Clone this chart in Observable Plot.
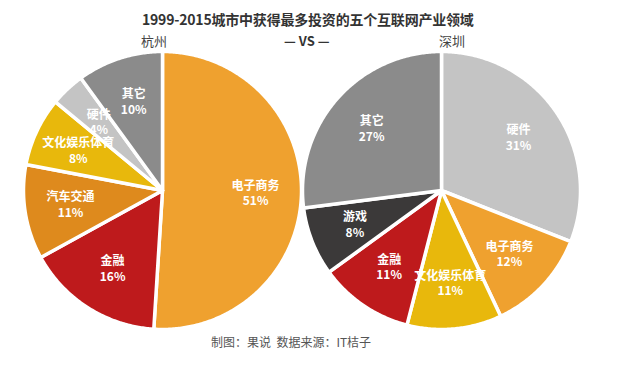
<!DOCTYPE html>
<html>
<head>
<meta charset="utf-8">
<script src="https://cdn.jsdelivr.net/npm/d3@7"></script>
<script src="https://cdn.jsdelivr.net/npm/@observablehq/plot@0.6"></script>
<style>
  body { margin: 0; background: #fff; font-family: "Noto Sans CJK SC", "Noto Sans", sans-serif; }
  #wrap { width: 620px; }
  #hdr { position: relative; height: 48px; width: 620px; color: #333; }
  #title { position: absolute; left: 142px; top: 11px; font-size: 14px; line-height: 17px; font-weight: bold; white-space: nowrap; letter-spacing: -0.2px; }
  .sub { position: absolute; top: 32px; font-size: 13px; line-height: 17px; white-space: nowrap; color: #444; }
  #cap { margin: 5px 0 0 211px; font-size: 12px; line-height: 16px; color: #555; white-space: nowrap; }
</style>
</head>
<body>
<div id="wrap">
  <div id="hdr">
    <div id="title">1999-2015城市中获得最多投资的五个互联网产业领域</div>
    <div class="sub" id="cityL" style="left:141px"></div>
    <div class="sub" style="left:284px;font-weight:bold;color:#333">— VS —</div>
    <div class="sub" id="cityR" style="left:439px"></div>
  </div>
  <div id="chart"></div>
  <div id="cap">制图：果说&nbsp;&nbsp;数据来源：IT桔子</div>
</div>
<script>
// ---- data ----
const cities = ["杭州", "深圳"];
const categoriesHZ = ["电子商务", "金融", "汽车交通", "文化娱乐体育", "硬件", "其它"];
const valuesHZ = [51, 16, 11, 8, 4, 10];
const categoriesSZ = ["硬件", "电子商务", "文化娱乐体育", "金融", "游戏", "其它"];
const valuesSZ = [31, 12, 11, 11, 8, 27];
const colorDomain = ["电子商务", "金融", "汽车交通", "文化娱乐体育", "硬件", "其它", "游戏"];
const colorRange = ["#EFA12F", "#BE1A1C", "#DE8A1D", "#E8B80C", "#C4C4C4", "#8B8B8B", "#3B3939"];

document.getElementById("cityL").textContent = cities[0];
document.getElementById("cityR").textContent = cities[1];

// ---- build slices ----
const series = [
  {city: cities[0], cats: categoriesHZ, vals: valuesHZ},
  {city: cities[1], cats: categoriesSZ, vals: valuesSZ}
];
const outline = [];
const labels = [];
const labelR = 0.67;
for (const s of series) {
  const arcs = d3.pie().sort(null).value(d => d)(s.vals);
  arcs.forEach((a, i) => {
    const key = s.city + "-" + s.cats[i];
    outline.push({city: s.city, key, category: s.cats[i], x: 0, y: 0});
    const n = Math.max(2, Math.ceil((a.endAngle - a.startAngle) / 0.01));
    for (let k = 0; k <= n; k++) {
      const t = a.startAngle + (a.endAngle - a.startAngle) * k / n;
      outline.push({city: s.city, key, category: s.cats[i], x: Math.sin(t), y: Math.cos(t)});
    }
    const m = (a.startAngle + a.endAngle) / 2;
    labels.push({city: s.city, x: labelR * Math.sin(m), y: labelR * Math.cos(m),
                 name: s.cats[i], pct: s.vals[i] + "%"});
  });
}

const chart = Plot.plot({
  width: 620,
  height: 281,
  marginLeft: 23,
  marginRight: 40,
  marginTop: 3,
  marginBottom: 0,
  style: {fontFamily: "'Noto Sans CJK SC', 'Noto Sans', sans-serif", background: "transparent"},
  fx: {domain: cities, axis: null, paddingInner: 0.0036, paddingOuter: 0},
  x: {domain: [-1, 1], axis: null},
  y: {domain: [-1, 1], axis: null},
  color: {domain: colorDomain, range: colorRange},
  marks: [
    Plot.line(outline, {
      x: "x", y: "y", z: "key", fx: "city",
      fill: "category", stroke: "white", strokeWidth: 3.5,
      strokeLinejoin: "round", curve: "linear-closed"
    }),
    Plot.text(labels, {
      x: "x", y: "y", fx: "city", text: "name", dy: -7.5,
      fill: "white", fontSize: 12, fontWeight: "bold"
    }),
    Plot.text(labels, {
      x: "x", y: "y", fx: "city", text: "pct", dy: 8,
      fill: "white", fontSize: 12, fontWeight: "bold"
    })
  ]
});
document.getElementById("chart").appendChild(chart);
</script>
</body>
</html>
